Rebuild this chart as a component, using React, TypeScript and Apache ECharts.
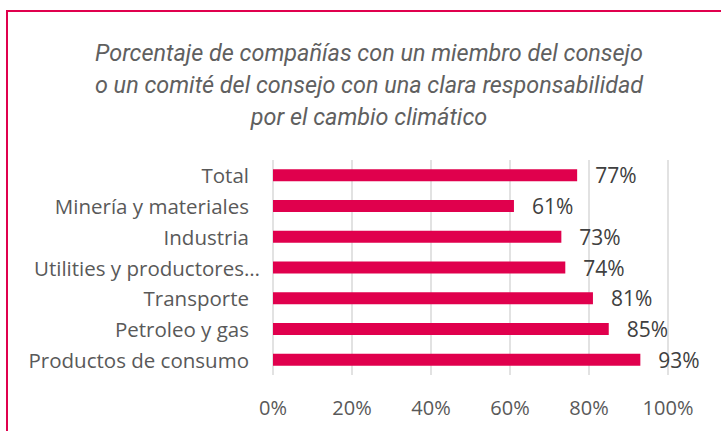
import React, { useEffect, useRef } from "react";
import * as echarts from "echarts";

const categories = [
  "Total",
  "Minería y materiales",
  "Industria",
  "Utilities y productores…",
  "Transporte",
  "Petroleo y gas",
  "Productos de consumo",
];
const values = [77, 61, 73, 74, 81, 85, 93];
const xTicks = [0, 20, 40, 60, 80, 100];
const titleLines = [
  "Porcentaje de compañías con un miembro del consejo",
  "o un comité del consejo con una clara responsabilidad",
  "por el cambio climático",
];

export default function App() {
  const ref = useRef<HTMLDivElement>(null);
  useEffect(() => {
    document.body.style.margin = "0";
    const chart = echarts.init(ref.current!, undefined, { renderer: "svg" });
    chart.setOption({
      animation: false,
      backgroundColor: "#ffffff",
      title: {
        text: titleLines.join("\n"),
        left: 364,
        top: 32,
        textAlign: "center",
        textStyle: {
          fontFamily: "Roboto",
          fontStyle: "italic",
          fontWeight: 400,
          fontSize: 23.4,
          lineHeight: 32,
          color: "#606060",
        },
      },
      graphic: [
        {
          type: "rect",
          shape: { x: 7, y: 11, width: 800, height: 500 },
          style: { fill: "none", stroke: "#E0004D", lineWidth: 2 },
          silent: true,
        },
      ],
      grid: { left: 273, right: 53, top: 160, bottom: 56, containLabel: false },
      xAxis: {
        type: "value",
        min: xTicks[0],
        max: xTicks[xTicks.length - 1],
        interval: 20,
        axisLine: { show: false },
        axisTick: { show: false },
        splitLine: { lineStyle: { color: "#d9d9d9", width: 1.5 } },
        axisLabel: {
          formatter: "{value}%",
          fontFamily: "Open Sans",
          fontSize: 20,
          color: "#595959",
          margin: 22,
        },
      },
      yAxis: {
        type: "category",
        inverse: true,
        data: categories,
        axisLine: { show: false },
        axisTick: { show: false },
        axisLabel: {
          fontFamily: "Open Sans",
          fontSize: 20.5,
          color: "#595959",
          margin: 24,
          formatter: (v: string) => (v.endsWith("…") ? `{u|${v}}` : v),
          rich: {
            u: {
              fontFamily: "Open Sans",
              fontSize: 20.5,
              color: "#595959",
              width: 215,
              align: "left",
            },
          },
        },
      },
      series: [
        {
          type: "bar",
          data: values,
          barWidth: 12,
          itemStyle: { color: "#E0004D" },
          label: {
            show: true,
            position: "right",
            distance: 18,
            formatter: "{c}%",
            fontFamily: "Open Sans",
            fontSize: 21,
            color: "#404040",
          },
        },
      ],
    });
    return () => chart.dispose();
  }, []);
  return <div ref={ref} style={{ width: 721, height: 431 }} />;
}
